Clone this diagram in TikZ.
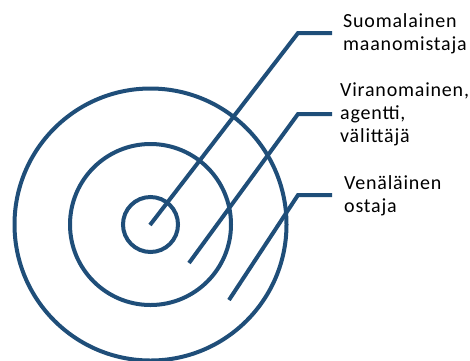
\documentclass[tikz,border=0pt]{standalone}
\usepackage{fontspec}
\setmainfont{Carlito}
\newfontfamily\labelfont[LetterSpace=4]{Carlito}
\usepackage{xcolor}
\usepackage{tikz}
\usetikzlibrary{calc, positioning}

\definecolor{ringblue}{HTML}{1F4E79}

\begin{document}
\begin{tikzpicture}[x=1pt, y=-1pt,
    ring/.style={draw=ringblue, line width=4pt},
    leader/.style={draw=ringblue, line width=4pt},
    label/.style={anchor=north west, align=left, inner sep=0pt,
        font=\labelfont\fontsize{20}{23}\selectfont}]
    \useasboundingbox (0,0) rectangle (470,360);
    % Renkaat
    \coordinate (center) at (150.5,224.5);
    \draw[ring] (center) circle (27.5);
    \draw[ring] (center) circle (80.5);
    \draw[ring] (center) circle (136);
    % Tekstit
    \node[label] (owner) at (343,13) {Suomalainen\\maanomistaja};
    \node[label] (agent) at (340,83) {Viranomainen,\\agentti,\\välittäjä};
    \node[label] (buyer) at (344,175) {Venäläinen\\ostaja};
    % Viivat
    \coordinate (a1) at (150,225);
    \coordinate (k1) at (298,33);
    \coordinate (e1) at (332,33);
    \coordinate (a2) at (189,263);
    \coordinate (k2) at (298,114);
    \coordinate (e2) at (332,114);
    \coordinate (a3) at (229,300);
    \coordinate (k3) at (298,195);
    \coordinate (e3) at (332,195);
    \draw[leader] (a1) -- (k1) -- (e1);
    \draw[leader] (a2) -- (k2) -- (e2);
    \draw[leader] (a3) -- (k3) -- (e3);
\end{tikzpicture}
\end{document}
